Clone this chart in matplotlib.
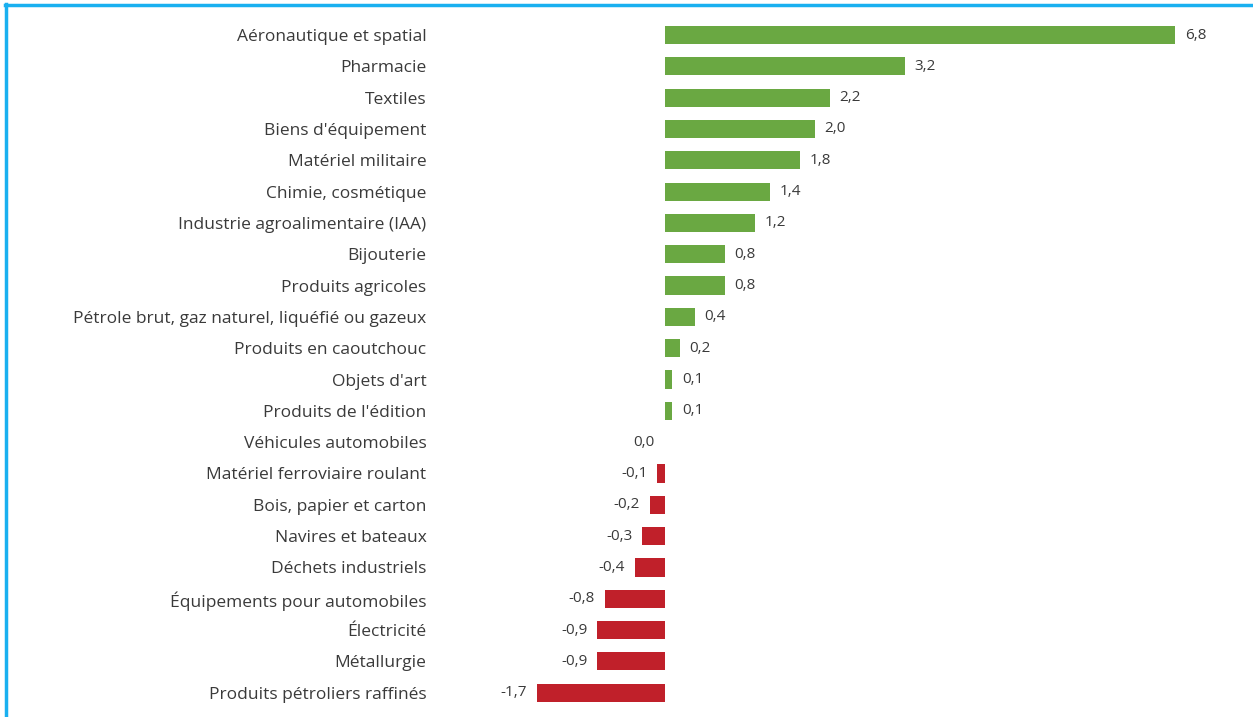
import matplotlib.pyplot as plt

# sectors, top to bottom
categories = [
    "Aéronautique et spatial", "Pharmacie", "Textiles", "Biens d'équipement",
    "Matériel militaire", "Chimie, cosmétique", "Industrie agroalimentaire (IAA)",
    "Bijouterie", "Produits agricoles",
    "Pétrole brut, gaz naturel, liquéfié ou gazeux", "Produits en caoutchouc",
    "Objets d'art", "Produits de l'édition", "Véhicules automobiles",
    "Matériel ferroviaire roulant", "Bois, papier et carton", "Navires et bateaux",
    "Déchets industriels", "Équipements pour automobiles", "Électricité",
    "Métallurgie", "Produits pétroliers raffinés",
]
values = [6.8, 3.2, 2.2, 2.0, 1.8, 1.4, 1.2, 0.8, 0.8, 0.4, 0.2, 0.1, 0.1, 0.0,
          -0.1, -0.2, -0.3, -0.4, -0.8, -0.9, -0.9, -1.7]

plt.rcParams['font.family'] = ['Open Sans', 'DejaVu Sans']

fig = plt.figure(figsize=(12.53, 7.17), dpi=100)
ax = fig.add_axes([432 / 1253, 0.012, (1235 - 432) / 1253, 0.961])

green = '#6aa842'
red = '#c0202a'
colors = [green if v > 0 else red for v in values]
ypos = list(range(len(categories)))
ax.barh(ypos, values, height=0.58, color=colors)

for y, v in zip(ypos, values):
    txt = f"{v:.1f}".replace('.', ',')
    if v > 0:
        ax.text(v + 0.13, y, txt, va='center', ha='left', fontsize=11, color='#3a3a3a')
    else:
        ax.text(v - 0.13, y, txt, va='center', ha='right', fontsize=11, color='#3a3a3a')

ax.set_yticks(ypos)
ax.set_yticklabels(categories, fontsize=12.5, color='#3a3a3a')
ax.tick_params(axis='y', length=0, pad=4)
ax.set_xticks([])
ax.set_xlim(-3.1, 7.6)
ax.set_ylim(len(categories) - 0.5, -0.5)
for s in ax.spines.values():
    s.set_visible(False)

# light blue frame (top and left)
fig.add_artist(plt.Line2D([0.004, 1], [0.9935, 0.9935], transform=fig.transFigure,
                          color='#1ab0f0', lw=2.5))
fig.add_artist(plt.Line2D([0.0048, 0.0048], [0, 0.995], transform=fig.transFigure,
                          color='#1ab0f0', lw=2.5))

fig.savefig('out.png', dpi=100)
